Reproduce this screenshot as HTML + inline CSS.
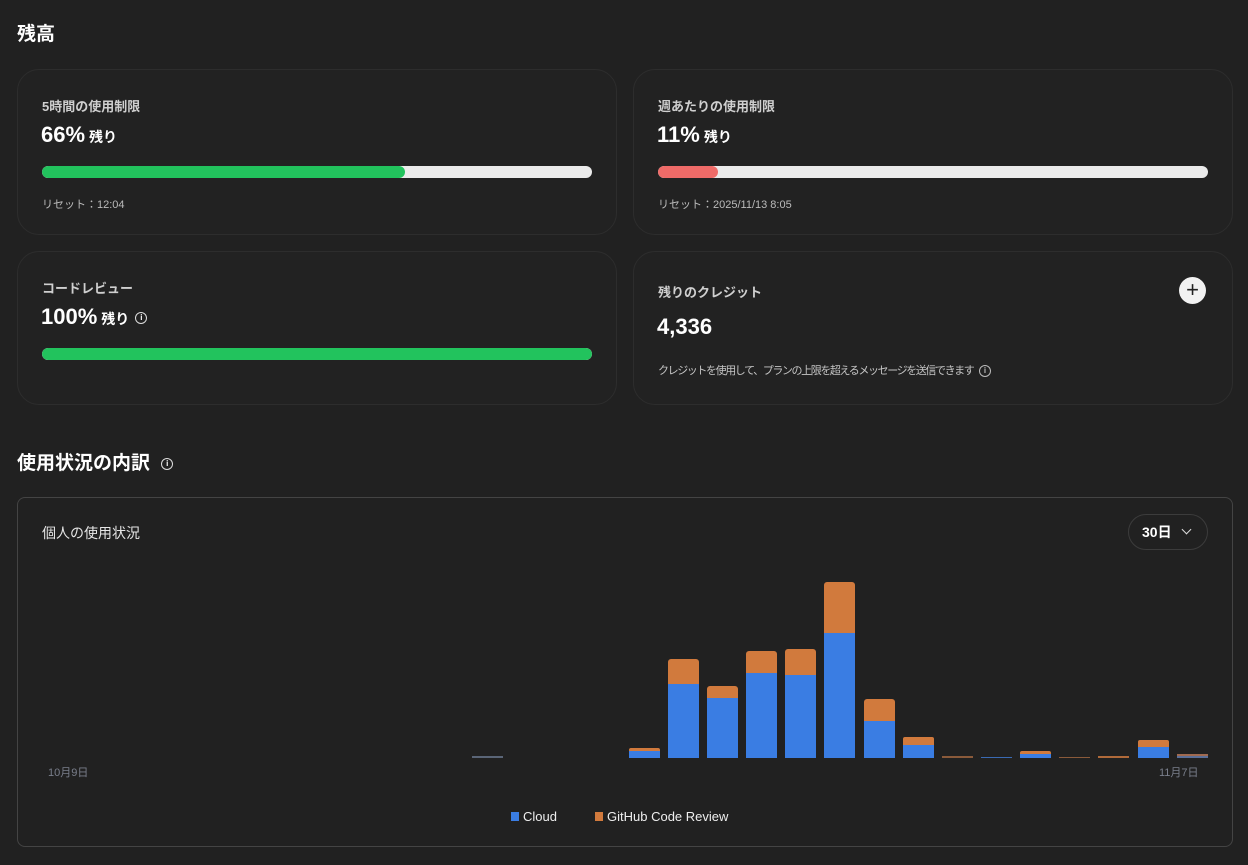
<!DOCTYPE html>
<html><head><meta charset="utf-8"><style>
*{box-sizing:border-box;margin:0;padding:0}
body{width:1248px;height:865px;background:#212121;font-family:"Liberation Sans","Noto Sans CJK JP",sans-serif;color:#fff;position:relative;overflow:hidden}
.a{position:absolute;white-space:nowrap}
.card{position:absolute;border:1px solid #2d2d2d;border-radius:22px;background:#222}
.lbl{font-size:13px;color:#cfcfcf;font-weight:bold}
.big{font-size:22px;font-weight:bold}
.big small{font-size:14px;font-weight:bold;margin-left:4px}
.bar{position:absolute;height:12px;border-radius:6px;background:#ebebeb;overflow:hidden}
.bar i{display:block;height:100%;border-radius:6px}
.sm{font-size:11px;color:#bbb}
.info{display:inline-block;width:12px;height:12px;border:1.3px solid #ddd;border-radius:50%;font-size:8px;text-align:center;line-height:10px;font-style:normal;vertical-align:middle;font-weight:bold;letter-spacing:0}
</style></head><body>
<div class="a" style="left:17px;top:19px;font-size:19px;font-weight:bold">残高</div>

<div class="card" style="left:17px;top:69px;width:600px;height:166px"></div>
<div class="a lbl" style="left:42px;top:96px">5時間の使用制限</div>
<div class="a big" style="left:41px;top:122px">66%<small>残り</small></div>
<div class="bar" style="left:42px;top:166px;width:550px"><i style="width:363px;background:#22c35d"></i></div>
<div class="a sm" style="left:42px;top:196px">リセット：12:04</div>

<div class="card" style="left:633px;top:69px;width:600px;height:166px"></div>
<div class="a lbl" style="left:658px;top:96px">週あたりの使用制限</div>
<div class="a big" style="left:657px;top:122px">11%<small>残り</small></div>
<div class="bar" style="left:658px;top:166px;width:550px"><i style="width:60px;background:#ef6b68"></i></div>
<div class="a sm" style="left:658px;top:196px">リセット：2025/11/13 8:05</div>

<div class="card" style="left:17px;top:251px;width:600px;height:154px"></div>
<div class="a lbl" style="left:42px;top:278px">コードレビュー</div>
<div class="a big" style="left:41px;top:304px">100%<small>残り</small> <i class="info">i</i></div>
<div class="bar" style="left:42px;top:348px;width:550px"><i style="width:100%;background:#22c35d"></i></div>

<div class="card" style="left:633px;top:251px;width:600px;height:154px"></div>
<div class="a lbl" style="left:658px;top:282px">残りのクレジット</div>
<div class="a" style="left:1179px;top:277px;width:27px;height:27px;border-radius:50%;background:#f2f2f2;color:#222;font-size:22px;line-height:26px;text-align:center">+</div>
<div class="a big" style="left:657px;top:314px">4,336</div>
<div class="a sm" style="left:658px;top:362px;color:#c4c4c4;letter-spacing:-1.4px">クレジットを使用して、プランの上限を超えるメッセージを送信できます <i class="info" style="border-color:#bbb;color:#bbb;margin-left:4px">i</i></div>

<div class="a" style="left:17px;top:448px;font-size:19px;font-weight:bold">使用状況の内訳 <i class="info" style="font-size:8px;margin-left:6px">i</i></div>

<div class="a" style="left:17px;top:497px;width:1216px;height:350px;border:1px solid #444;border-radius:8px"></div>
<div class="a" style="left:42px;top:523px;font-size:14px;color:#e6e6e6">個人の使用状況</div>
<div class="a" style="left:1128px;top:514px;width:80px;height:36px;border:1px solid #3c3c3c;border-radius:18px;font-size:14px;font-weight:bold;line-height:34px;padding-left:13px">30日 <span style="display:inline-block;width:7px;height:7px;border-right:1.5px solid #ddd;border-bottom:1.5px solid #ddd;transform:rotate(45deg);margin:0 0 4px 8px"></span></div>

<svg class="a" style="left:0;top:0" width="1248" height="865">
<g>
<rect x="472" y="756" width="31" height="2" fill="#5a6577"/>
<rect x="629" y="748" width="31" height="10" fill="#d17a3d" rx="2"/><rect x="629" y="751" width="31" height="7" fill="#3a7de3"/>
<rect x="668" y="659" width="31" height="99" fill="#d17a3d" rx="3"/><rect x="668" y="684" width="31" height="74" fill="#3a7de3"/>
<rect x="707" y="686" width="31" height="72" fill="#d17a3d" rx="3"/><rect x="707" y="698" width="31" height="60" fill="#3a7de3"/>
<rect x="746" y="651" width="31" height="107" fill="#d17a3d" rx="3"/><rect x="746" y="673" width="31" height="85" fill="#3a7de3"/>
<rect x="785" y="649" width="31" height="109" fill="#d17a3d" rx="3"/><rect x="785" y="675" width="31" height="83" fill="#3a7de3"/>
<rect x="824" y="582" width="31" height="176" fill="#d17a3d" rx="3"/><rect x="824" y="633" width="31" height="125" fill="#3a7de3"/>
<rect x="864" y="699" width="31" height="59" fill="#d17a3d" rx="3"/><rect x="864" y="721" width="31" height="37" fill="#3a7de3"/>
<rect x="903" y="737" width="31" height="21" fill="#d17a3d" rx="2"/><rect x="903" y="745" width="31" height="13" fill="#3a7de3"/>
<rect x="942" y="756" width="31" height="2" fill="#8a5a3a"/>
<rect x="981" y="757" width="31" height="1" fill="#3a6ab3"/>
<rect x="1020" y="751" width="31" height="7" fill="#d17a3d" rx="2"/><rect x="1020" y="754" width="31" height="4" fill="#3a7de3"/>
<rect x="1059" y="757" width="31" height="1" fill="#8a5a3a"/>
<rect x="1098" y="756" width="31" height="2" fill="#b06a3a"/>
<rect x="1138" y="740" width="31" height="18" fill="#d17a3d" rx="2"/><rect x="1138" y="747" width="31" height="11" fill="#3a7de3"/>
<rect x="1177" y="754" width="31" height="4" fill="#a06a50"/><rect x="1177" y="756" width="31" height="2" fill="#5a6f99"/>
</g>
<text x="48" y="776" font-size="11" fill="#7a7f8c" font-family="Liberation Sans,Noto Sans CJK JP,sans-serif">10月9日</text>
<text x="1159" y="776" font-size="11" fill="#7a7f8c" font-family="Liberation Sans,Noto Sans CJK JP,sans-serif">11月7日</text>
<rect x="511" y="812" width="8" height="9" fill="#3a7de3"/>
<text x="523" y="821" font-size="13" fill="#eee" font-family="Liberation Sans,sans-serif">Cloud</text>
<rect x="595" y="812" width="8" height="9" fill="#d17a3d"/>
<text x="607" y="821" font-size="13" fill="#eee" font-family="Liberation Sans,sans-serif">GitHub Code Review</text>
</svg>
</body></html>
